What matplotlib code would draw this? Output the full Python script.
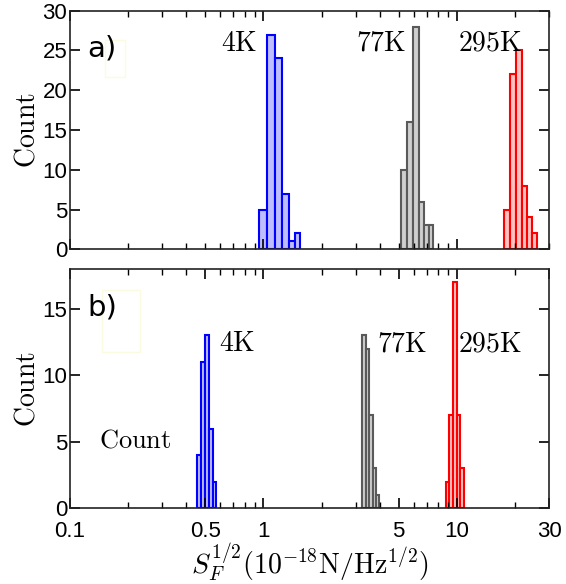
import numpy as np
import matplotlib
matplotlib.use("Agg")
import matplotlib.pyplot as plt
from matplotlib.patches import Rectangle
from matplotlib.ticker import LogLocator, NullFormatter

plt.rcParams['mathtext.fontset'] = 'cm'

# histogram bin edges and counts, panel a)
a_edges_4K = [0.95, 1.05, 1.15, 1.25, 1.35, 1.45, 1.55]
a_counts_4K = [5, 27, 24, 7, 1, 2]
a_edges_77K = [5.15, 5.55, 5.95, 6.35, 6.75, 7.15, 7.55]
a_counts_77K = [10, 16, 28, 6, 3, 3]
a_edges_295K = [17.5, 18.9, 20.3, 21.7, 23.1, 24.5, 25.9]
a_counts_295K = [5, 22, 25, 8, 4, 2]

# panel b)
b_edges_4K = [0.452, 0.476, 0.500, 0.524, 0.548, 0.572]
b_counts_4K = [4, 11, 13, 6, 2]
b_edges_77K = [3.24, 3.385, 3.53, 3.675, 3.82, 3.965]
b_counts_77K = [13, 12, 7, 3, 1]
b_edges_295K = [8.75, 9.17, 9.59, 10.01, 10.43, 10.85]
b_counts_295K = [2, 7, 17, 7, 3]

xtick_vals = [0.1, 0.5, 1, 5, 10, 30]
xtick_text = ['0.1', '0.5', '1', '5', '10', '30']

styles = {
    '4K': dict(edgecolor='#0000ff', facecolor='#bebeff'),
    '77K': dict(edgecolor='#5a5a5a', facecolor='#cfcfcf'),
    '295K': dict(edgecolor='#ff0000', facecolor='#ffc4c4'),
}

fig = plt.figure(figsize=(5.66, 5.84), dpi=100)
ax1 = fig.add_axes([0.1237, 0.5731, 0.8463, 0.4086])
ax2 = fig.add_axes([0.1237, 0.1296, 0.8463, 0.4098])


def draw_hist(ax, edges, counts, key):
    edges = np.array(edges)
    ax.bar(edges[:-1], counts, width=np.diff(edges), align='edge',
           linewidth=1.5, **styles[key])


for ax in (ax1, ax2):
    ax.set_xscale('log')
    ax.set_xlim(0.1, 30)
    ax.xaxis.set_major_locator(LogLocator(base=10, numticks=10))
    ax.xaxis.set_minor_locator(LogLocator(base=10, subs=np.arange(2, 10), numticks=20))
    ax.xaxis.set_minor_formatter(NullFormatter())
    ax.tick_params(which='both', direction='in', top=True, right=True)
    ax.tick_params(which='major', length=7, width=1.2)
    ax.tick_params(which='minor', length=4, width=1)
    for s in ax.spines.values():
        s.set_linewidth(1.2)
        s.set_color('#222222')
    ax.set_ylabel(r'$\mathrm{Count}$', fontsize=20, labelpad=1)

draw_hist(ax1, a_edges_4K, a_counts_4K, '4K')
draw_hist(ax1, a_edges_77K, a_counts_77K, '77K')
draw_hist(ax1, a_edges_295K, a_counts_295K, '295K')
ax1.set_ylim(0, 30)
ax1.set_yticks(range(0, 31, 5))
ax1.xaxis.set_major_formatter(NullFormatter())

draw_hist(ax2, b_edges_4K, b_counts_4K, '4K')
draw_hist(ax2, b_edges_77K, b_counts_77K, '77K')
draw_hist(ax2, b_edges_295K, b_counts_295K, '295K')
ax2.set_ylim(0, 18)
ax2.set_yticks([0, 5, 10, 15])
ax2.set_xticks(xtick_vals)
ax2.set_xticklabels(xtick_text)
ax2.xaxis.set_minor_formatter(NullFormatter())

for ax in (ax1, ax2):
    for lab in ax.get_xticklabels() + ax.get_yticklabels():
        lab.set_fontfamily('Liberation Sans')
        lab.set_fontsize(16)
    ax.tick_params(axis='y', pad=2)
    ax.tick_params(axis='x', pad=9)

ax2.set_xlabel(r'$S_F^{1/2}(10^{-18}\mathrm{N/Hz}^{1/2})$', fontsize=20, labelpad=0)

# temperature labels
ax1.text(0.935, 26, r'$\mathrm{4K}$', fontsize=20, ha='right', va='center')
ax1.text(5.5, 26, r'$\mathrm{77K}$', fontsize=20, ha='right', va='center')
ax1.text(10.1, 26, r'$\mathrm{295K}$', fontsize=20, ha='left', va='center')

ax2.text(0.59, 12.4, r'$\mathrm{4K}$', fontsize=20, ha='left', va='center')
ax2.text(3.85, 12.4, r'$\mathrm{77K}$', fontsize=20, ha='left', va='center')
ax2.text(10.1, 12.4, r'$\mathrm{295K}$', fontsize=20, ha='left', va='center')
ax2.text(0.142, 5.1, r'$\mathrm{Count}$', fontsize=19, ha='left', va='center')

# panel letters with their empty frames
ax1.text(0.037, 0.84, 'a)', transform=ax1.transAxes, fontsize=21,
         family='DejaVu Sans', ha='left', va='center')
ax2.text(0.037, 0.84, 'b)', transform=ax2.transAxes, fontsize=21,
         family='DejaVu Sans', ha='left', va='center')
ax1.add_patch(Rectangle((0.073, 0.722), 0.042, 0.155, transform=ax1.transAxes,
                        fill=False, edgecolor='#fbfbe2', linewidth=1))
ax2.add_patch(Rectangle((0.067, 0.655), 0.079, 0.258, transform=ax2.transAxes,
                        fill=False, edgecolor='#fbfbe2', linewidth=1))

fig.savefig('out.png', dpi=100)
